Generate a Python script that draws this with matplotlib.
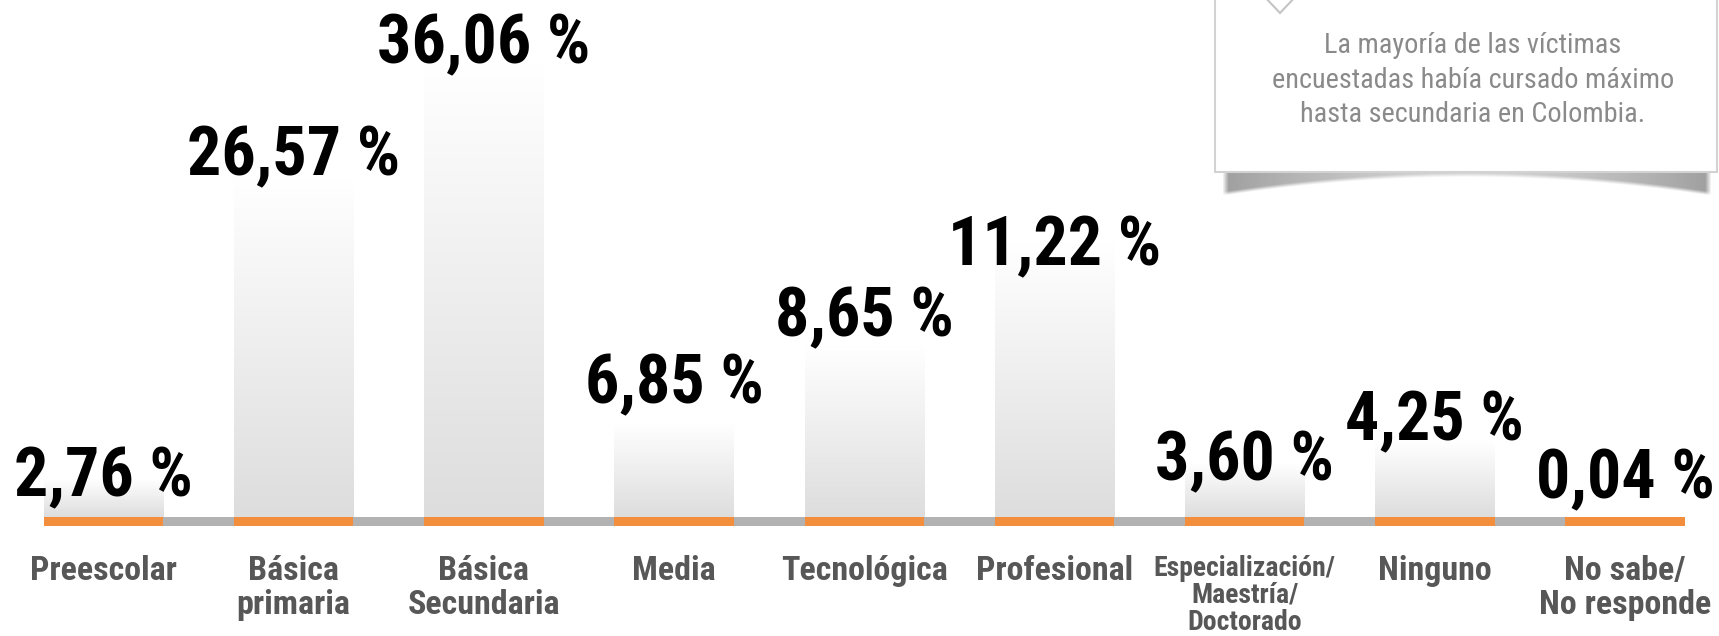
import numpy as np
import matplotlib
matplotlib.use("Agg")
import matplotlib.pyplot as plt
from matplotlib import font_manager
from matplotlib.colors import LinearSegmentedColormap
from matplotlib.patches import Rectangle, Polygon

# Datos de la infografía
categorias = ["Preescolar", "Básica\nprimaria", "Básica\nSecundaria", "Media", "Tecnológica",
              "Profesional", "Especialización/\nMaestría/\nDoctorado", "Ninguno", "No sabe/\nNo responde"]
porcentajes = [2.76, 26.57, 36.06, 6.85, 8.65, 11.22, 3.60, 4.25, 0.04]
# altura de las barras tal como aparecen dibujadas (no son proporcionales)
alturas = [3.0, 27.1, 36.1, 7.5, 13.6, 21.9, 4.3, 6.0, 0.0]
nota = "La mayoría de las víctimas\nencuestadas había cursado máximo\nhasta secundaria en Colombia."

# Fuentes condensadas disponibles
nombres = {f.name for f in font_manager.fontManager.ttflist}
fuente = "DejaVu Sans"
for cand in ["Roboto Condensed", "Liberation Sans Narrow"]:
    if cand in nombres:
        fuente = cand
        break

NARANJA = "#F28E3C"
GRIS_LINEA = "#B2B2B2"
GRIS_TEXTO = "#575757"

W, H = 1719, 636
fig = plt.figure(figsize=(W / 100, H / 100), dpi=100)
ax = fig.add_axes([0, 0, 1, 1])
ax.axis("off")

x = np.arange(len(categorias))
ancho = 0.628
franja = 0.75

# Barras con degradado blanco -> gris claro
cmap = LinearSegmentedColormap.from_list("barra", ["#DDDDDD", "#FFFFFF"])
grad = np.linspace(1, 0, 256).reshape(-1, 1)
for xi, h in zip(x, alturas):
    if h > 0:
        ax.imshow(grad, cmap=cmap, vmin=0, vmax=1, aspect="auto", origin="upper",
                  extent=(xi - ancho / 2, xi + ancho / 2, 0, h), zorder=1)

# Línea base gris y franjas naranjas
ax.add_patch(Rectangle((x[0] - ancho / 2, -franja), x[-1] - x[0] + ancho, franja,
                       color=GRIS_LINEA, lw=0, zorder=2))
ax.bar(x, franja, bottom=-franja, width=ancho, color=NARANJA, lw=0, zorder=3)

# Etiquetas de valores
ajuste = [-1.35, 0.2, 0.1, 1.6, 0.8, -1.8, -1.35, 0.15, 1.5]
for xi, h, v, d in zip(x, alturas, porcentajes, ajuste):
    txt = f"{v:.2f}".replace(".", ",") + " %"
    ax.text(xi, h + d, txt, ha="center", va="baseline", fontsize=49,
            fontweight="bold", family=fuente, color="black", zorder=5)

# Etiquetas de categorías
for xi, cat in zip(x, categorias):
    largo = cat.count("\n") > 1
    ax.text(xi, -3.0, cat, ha="center", va="top", fontsize=20 if largo else 24.5,
            fontweight="bold", family=fuente, color=GRIS_TEXTO,
            linespacing=1.0 if largo else 1.1, zorder=5)

# Recuadro con la nota (coordenadas en píxeles)
ax2 = fig.add_axes([0, 0, 1, 1])
ax2.set_xlim(0, W)
ax2.set_ylim(H, 0)
ax2.axis("off")
ax2.patch.set_visible(False)

# sombra curva bajo el recuadro
xs = np.linspace(1222, 1712, 500)
ys = np.linspace(168, 200, 64)
XX, YY = np.meshgrid(xs, ys)
t = (XX - 1467) / 245
borde = 175 + 19 * t ** 2
alpha = np.clip((borde - YY) / 4 + 0.5, 0, 1) * (0.45 + 0.55 * np.abs(t) ** 1.5)
alpha *= np.clip((1 - np.abs(t)) * 40, 0, 1)
sombra = np.zeros(XX.shape + (4,))
sombra[..., :3] = 0.62
sombra[..., 3] = alpha
ax2.imshow(sombra, extent=(1222, 1712, 200, 168), aspect="auto", zorder=1)

ax2.add_patch(Rectangle((1215, -20), 502, 192, facecolor="white", edgecolor="#D2D2D2",
                        lw=1.5, zorder=2))
ax2.add_patch(Polygon([(1262, -6), (1280, 13), (1298, -6)], closed=True,
                      facecolor="white", edgecolor="#C4C4C4", lw=1.5, zorder=3))

for i, linea in enumerate(nota.split("\n")):
    ax2.text(1473, 53 + i * 34.5, linea, ha="center", va="baseline", fontsize=20.3,
             family=fuente, color="#8A8A8A", zorder=4)

ax.set_xlim(-0.544, 8.494)
ax.set_ylim(-9.50, 41.26)
fig.savefig("out.png", dpi=100)
